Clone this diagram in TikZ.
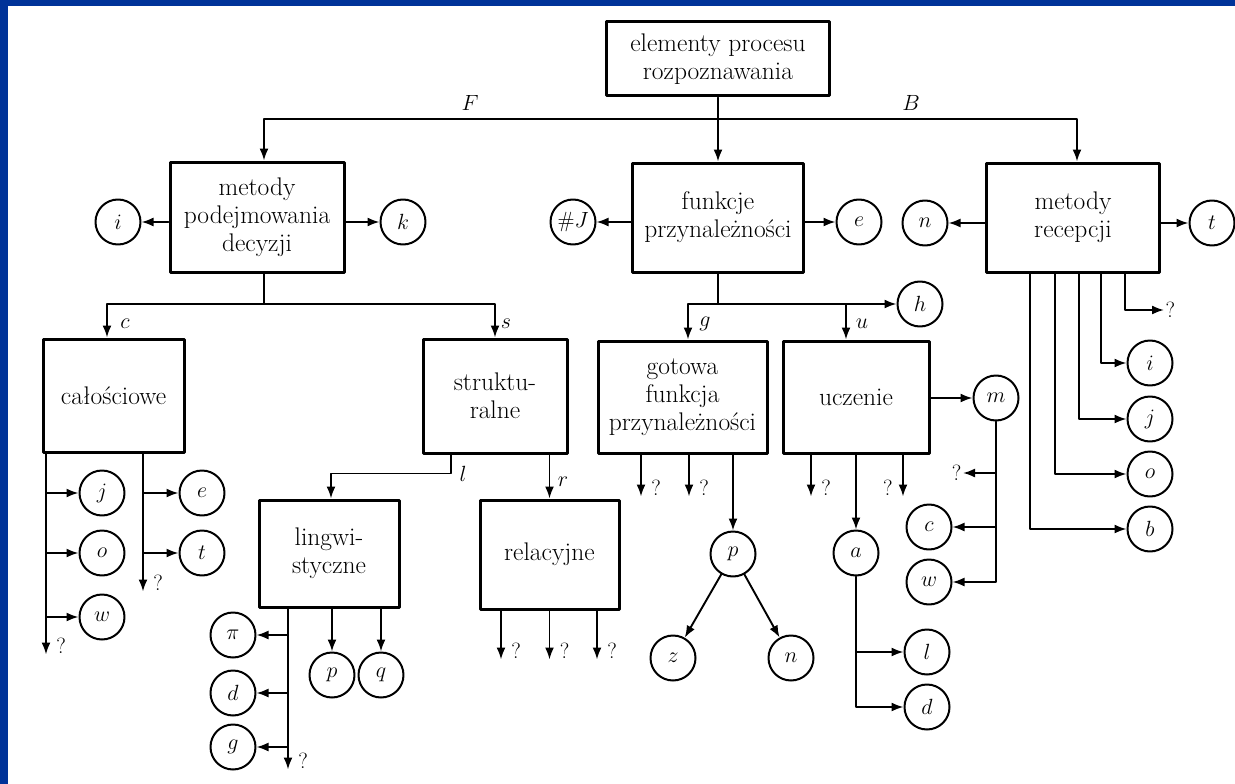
\documentclass[tikz,border=0pt]{standalone}
\usepackage{fix-cm}
\usetikzlibrary{arrows.meta}
\definecolor{ramka}{RGB}{0,51,153}
\begin{document}
\begin{tikzpicture}[x=1pt,y=-1pt,line cap=round,line join=round,
  blok/.style={draw,line width=3pt,align=center,inner sep=1pt,font=\fontsize{25.5}{28}\selectfont},
  kolo/.style={draw,circle,line width=2pt,minimum size=45pt,inner sep=0pt,font=\fontsize{22}{24}\selectfont},
  linia/.style={line width=1.9pt},
  strz/.style={linia,-{Latex[length=12pt,width=9pt]}},
  etyk/.style={font=\fontsize{22}{24}\selectfont,inner sep=1pt},
  pyt/.style={font=\fontsize{22}{24}\selectfont,inner sep=1.5pt},
  pytp/.style={pyt,anchor=west,xshift=8pt,yshift=9pt},
  pytl/.style={pyt,anchor=east,xshift=-8pt,yshift=9pt}]
  \fill[ramka] (0,0) rectangle (1235,784);
  \fill[white] (8,6) rectangle (1235,784);
  \useasboundingbox (0,0) rectangle (1235,784);
  % bloki
  \node[blok,minimum width=223pt,minimum height=74pt] (elem) at (718,59) {elementy procesu\\rozpoznawania};
  \node[blok,minimum width=174pt,minimum height=110pt] (mpd) at (257,217) {metody\\podejmowania\\decyzji};
  \node[blok,minimum width=171pt,minimum height=109pt] (fp) at (718,217.5) {funkcje\\przynależności};
  \node[blok,minimum width=173pt,minimum height=109pt] (mr) at (1073,217.5) {metody\\recepcji};
  \node[blok,minimum width=141pt,minimum height=113pt] (cal) at (113.5,395.5) {całościowe};
  \node[blok,minimum width=144pt,minimum height=114pt] (str) at (495,396) {struktu-\\ralne};
  \node[blok,minimum width=169pt,minimum height=112pt] (got) at (682.5,397) {gotowa\\funkcja\\przynależności};
  \node[blok,minimum width=146pt,minimum height=112pt] (ucz) at (856,397) {uczenie};
  \node[blok,minimum width=140pt,minimum height=107pt] (lin) at (329,553.5) {lingwi-\\styczne};
  \node[blok,minimum width=139pt,minimum height=109pt] (rel) at (549.5,554.5) {relacyjne};
  % kola
  \node[kolo] (i1) at (118,222) {$i$};
  \node[kolo] (k) at (403,222) {$k$};
  \node[kolo] (hJ) at (573,222) {$\#J$};
  \node[kolo] (e1) at (859,222) {$e$};
  \node[kolo] (n1) at (925,223) {$n$};
  \node[kolo] (t1) at (1212,223) {$t$};
  \node[kolo] (h) at (920,304) {$h$};
  \node[kolo] (j1) at (102,493) {$j$};
  \node[kolo] (o1) at (102,553) {$o$};
  \node[kolo] (w1) at (102,617) {$w$};
  \node[kolo] (e2) at (202,493) {$e$};
  \node[kolo] (t2) at (202,553) {$t$};
  \node[kolo] (pi) at (233,635) {$\pi$};
  \node[kolo] (d1) at (233,693) {$d$};
  \node[kolo] (g1) at (233,747) {$g$};
  \node[kolo] (p1) at (332,675) {$p$};
  \node[kolo] (q) at (381,675) {$q$};
  \node[kolo] (p2) at (733,554) {$p$};
  \node[kolo] (z) at (673,658) {$z$};
  \node[kolo] (n2) at (791,658) {$n$};
  \node[kolo] (a) at (856,553) {$a$};
  \node[kolo] (l1) at (927,652) {$l$};
  \node[kolo] (d2) at (927,707) {$d$};
  \node[kolo] (m) at (996,398) {$m$};
  \node[kolo] (c2) at (929,527) {$c$};
  \node[kolo] (w2) at (929,582) {$w$};
  \node[kolo] (i2) at (1150,363) {$i$};
  \node[kolo] (j2) at (1150,419) {$j$};
  \node[kolo] (o2) at (1150,474) {$o$};
  \node[kolo] (b) at (1150,529) {$b$};
  % poziom 1
  \coordinate (rozd) at (718,119);
  \draw[strz] (elem) -- (fp);
  \draw[strz] (rozd) -| ([xshift=7pt]mpd.north);
  \draw[strz] (rozd) -| ([xshift=4pt]mr.north);
  \node[etyk] (F) at (470,103) {$F$};
  \node[etyk] (B) at (911,103) {$B$};
  \draw[strz] (mpd.west |- i1) -- (i1);
  \draw[strz] (mpd.east |- k) -- (k);
  \draw[strz] (fp.west |- hJ) -- (hJ);
  \draw[strz] (fp.east |- e1) -- (e1);
  \draw[strz] (mr.west |- n1) -- (n1);
  \draw[strz] (mr.east |- t1) -- (t1);
  % metody podejmowania decyzji
  \coordinate (rozc) at (264,304);
  \draw[linia] ([xshift=7pt]mpd.south) -- (rozc);
  \draw[strz] (rozc) -| ([xshift=-6.5pt]cal.north);
  \draw[strz] (rozc) -| (str.north);
  \node[etyk] (lc) at (125,324) {$c$};
  \node[etyk] (ls) at (506,324) {$s$};
  % funkcje przynaleznosci
  \coordinate (rozg) at (718,304);
  \draw[linia] (fp.south) -- (rozg);
  \draw[strz] (rozg) -| ([xshift=5.5pt]got.north);
  \draw[strz] (rozg) -- (h);
  \draw[strz] ([xshift=-10pt]ucz.north |- rozg) -- ([xshift=-10pt]ucz.north);
  \node[etyk] (lg) at (705,324) {$g$};
  \node[etyk] (lu) at (862,324) {$u$};
  % metody recepcji
  \draw[strz] ([xshift=28pt]mr.south) |- (i2);
  \draw[strz] ([xshift=6pt]mr.south) |- (j2);
  \draw[strz] ([xshift=-18pt]mr.south) |- (o2);
  \draw[strz] ([xshift=-43pt]mr.south) |- (b);
  \node[pyt,anchor=west] (pr) at (1164,310) {?};
  \draw[strz] ([xshift=52pt]mr.south) |- (pr.west);
  % calosciowe
  \draw[strz] ([xshift=-67.5pt]cal.south) -- ++(0,201) node[pytp] {?};
  \draw[strz] ([xshift=-67.5pt]cal.south |- j1) -- (j1);
  \draw[strz] ([xshift=-67.5pt]cal.south |- o1) -- (o1);
  \draw[strz] ([xshift=-67.5pt]cal.south |- w1) -- (w1);
  \draw[strz] ([xshift=29.5pt]cal.south) -- ++(0,138) node[pytp] {?};
  \draw[strz] ([xshift=29.5pt]cal.south |- e2) -- (e2);
  \draw[strz] ([xshift=29.5pt]cal.south |- t2) -- (t2);
  % strukturalne
  \draw[strz] ([xshift=-44pt]str.south) -- ++(0,19) -| ([xshift=2pt]lin.north);
  \draw[strz] (rel.north |- str.south) -- (rel.north);
  \node[etyk] (ll) at (463,474) {$l$};
  \node[etyk] (lr) at (563,482) {$r$};
  % lingwistyczne
  \draw[strz] ([xshift=-41pt]lin.south) -- ++(0,161) node[pytp] {?};
  \draw[strz] ([xshift=-41pt]lin.south |- pi) -- (pi);
  \draw[strz] ([xshift=-41pt]lin.south |- d1) -- (d1);
  \draw[strz] ([xshift=-41pt]lin.south |- g1) -- (g1);
  \draw[strz] (p1 |- lin.south) -- (p1);
  \draw[strz] (q |- lin.south) -- (q);
  % relacyjne
  \draw[strz] ([xshift=-48.5pt]rel.south) -- ++(0,49) node[pytp] {?};
  \draw[strz] (rel.south) -- ++(0,49) node[pytp] {?};
  \draw[strz] ([xshift=47.5pt]rel.south) -- ++(0,49) node[pytp] {?};
  % gotowa funkcja
  \draw[strz] ([xshift=-41.5pt]got.south) -- ++(0,42) node[pytp] {?};
  \draw[strz] ([xshift=6.5pt]got.south) -- ++(0,42) node[pytp] {?};
  \draw[strz] (p2 |- got.south) -- (p2);
  \draw[strz] (p2) -- (z);
  \draw[strz] (p2) -- (n2);
  % uczenie
  \draw[strz] ([xshift=-45pt]ucz.south) -- ++(0,42) node[pytp] {?};
  \draw[strz] ([xshift=47pt]ucz.south) -- ++(0,42) node[pytl] {?};
  \draw[strz] (ucz.south) -- (a);
  \draw[strz] (a) |- (d2);
  \draw[strz] (a.south |- l1) -- (l1);
  \draw[strz] (ucz.east |- m) -- (m);
  \draw[strz] (m) |- (w2);
  \draw[strz] (m.south |- c2) -- (c2);
  \node[pyt,anchor=east] (pm) at (963,473) {?};
  \draw[strz] (m.south |- pm) -- (pm.east);
\end{tikzpicture}
\end{document}
